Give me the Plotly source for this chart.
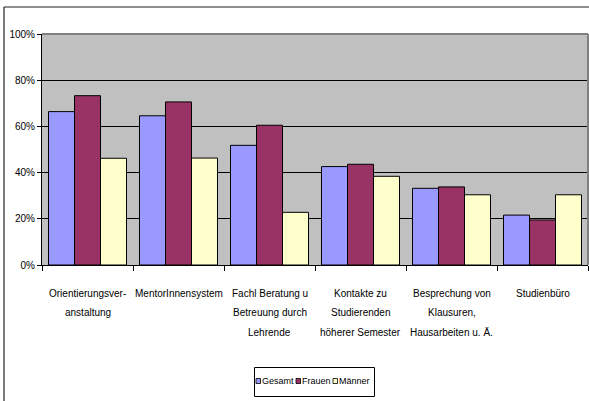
import plotly.graph_objects as go

# Survey: usefulness of support offers, share by group
categories = [
    "Orientierungsveranstaltung",
    "MentorInnensystem",
    "Fachl Beratung u Betreuung durch Lehrende",
    "Kontakte zu Studierenden höherer Semester",
    "Besprechung von Klausuren, Hausarbeiten u. Ä.",
    "Studienbüro",
]
tick_labels = [
    ["Orientierungsver-", "anstaltung"],
    ["MentorInnensystem"],
    ["Fachl Beratung u", "Betreuung durch", "Lehrende"],
    ["Kontakte zu", "Studierenden", "höherer Semester"],
    ["Besprechung von", "Klausuren,", "Hausarbeiten u. Ä."],
    ["Studienbüro"],
]
series_names = ["Gesamt", "Frauen", "Männer"]
gesamt = [66.4, 64.6, 51.8, 42.6, 33.2, 21.6]
frauen = [73.3, 70.6, 60.5, 43.6, 33.8, 19.5]
maenner = [46.2, 46.3, 22.8, 38.4, 30.4, 30.4]
series_values = [gesamt, frauen, maenner]
colors = ["#9999FF", "#993366", "#FFFFCC"]
y_ticks = [0, 20, 40, 60, 80, 100]
y_tick_labels = ["0%", "20%", "40%", "60%", "80%", "100%"]

FONT = "Liberation Sans, Arial, sans-serif"

W, H = 589, 401
ML, MR, MT, MB = 42, 1, 34, 136
PW, PH = W - ML - MR, H - MT - MB


def px_x(px):
    return (px - ML) / PW


def px_y(py):
    return (H - MB - py) / PH


fig = go.Figure()
for name, vals, col in zip(series_names, series_values, colors):
    fig.add_trace(go.Bar(
        name=name, x=categories, y=vals,
        marker=dict(color=col, line=dict(color="#000000", width=1)),
        showlegend=False,
    ))

shapes = [
    # grey frame on top and right of the plot area
    dict(type="line", xref="paper", yref="paper", x0=0, x1=1, y0=1, y1=1,
         line=dict(color="#808080", width=2)),
    dict(type="line", xref="paper", yref="paper", x0=1, x1=1, y0=0, y1=1,
         line=dict(color="#808080", width=2)),
    # outer chart frame (top and left edge)
    dict(type="line", xref="paper", yref="paper",
         x0=px_x(4), x1=px_x(W), y0=px_y(7), y1=px_y(7),
         line=dict(color="#222222", width=1.2)),
    dict(type="line", xref="paper", yref="paper",
         x0=px_x(4), x1=px_x(4), y0=px_y(7), y1=px_y(H),
         line=dict(color="#222222", width=1.2)),
    # legend box
    dict(type="rect", xref="paper", yref="paper",
         x0=px_x(254.5), x1=px_x(374.5), y0=px_y(367.5), y1=px_y(396.5),
         line=dict(color="#000000", width=1), fillcolor="#FFFFFF"),
]

annotations = []

# category labels below the axis, one text line each with generous spacing
for cat, lines in zip(categories, tick_labels):
    for i, line in enumerate(lines):
        annotations.append(dict(
            xref="x", yref="paper", x=cat, y=px_y(293 + 19.5 * i),
            text=line, showarrow=False, xanchor="center", yanchor="middle",
            font=dict(family=FONT, size=10, color="#000000")))

# legend entries: small swatch followed by series name
swatch_x = [256.0, 296.0, 333.0]
ly = 381
for name, col, sx in zip(series_names, colors, swatch_x):
    shapes.append(dict(type="rect", xref="paper", yref="paper",
                       x0=px_x(sx), x1=px_x(sx + 4.5),
                       y0=px_y(ly + 2.5), y1=px_y(ly - 2.5),
                       line=dict(color="#000000", width=0.8), fillcolor=col))
    annotations.append(dict(xref="paper", yref="paper", x=px_x(sx + 3.5),
                            y=px_y(ly), text=name, showarrow=False,
                            xanchor="left", yanchor="middle",
                            font=dict(family=FONT, size=9, color="#000000")))

fig.update_layout(
    width=W, height=H,
    margin=dict(l=ML, r=MR, t=MT, b=MB),
    paper_bgcolor="#FFFFFF",
    plot_bgcolor="#C0C0C0",
    barmode="group",
    bargap=0.143,
    bargroupgap=0,
    shapes=shapes,
    annotations=annotations,
    font=dict(family=FONT, size=10, color="#000000"),
    xaxis=dict(
        tickmode="array", tickvals=categories, showticklabels=False,
        tickson="boundaries", ticks="outside", ticklen=5, tickcolor="#000000",
        showline=True, linecolor="#000000", linewidth=1,
        showgrid=False,
    ),
    yaxis=dict(
        range=[0, 100], tickmode="array", tickvals=y_ticks,
        ticktext=y_tick_labels,
        ticks="outside", ticklen=4, tickcolor="#000000",
        showline=True, linecolor="#000000", linewidth=1,
        showgrid=True, gridcolor="#000000", gridwidth=1,
        zeroline=False,
        tickfont=dict(family=FONT, size=10, color="#000000"),
    ),
)

fig.write_html("out.html")
